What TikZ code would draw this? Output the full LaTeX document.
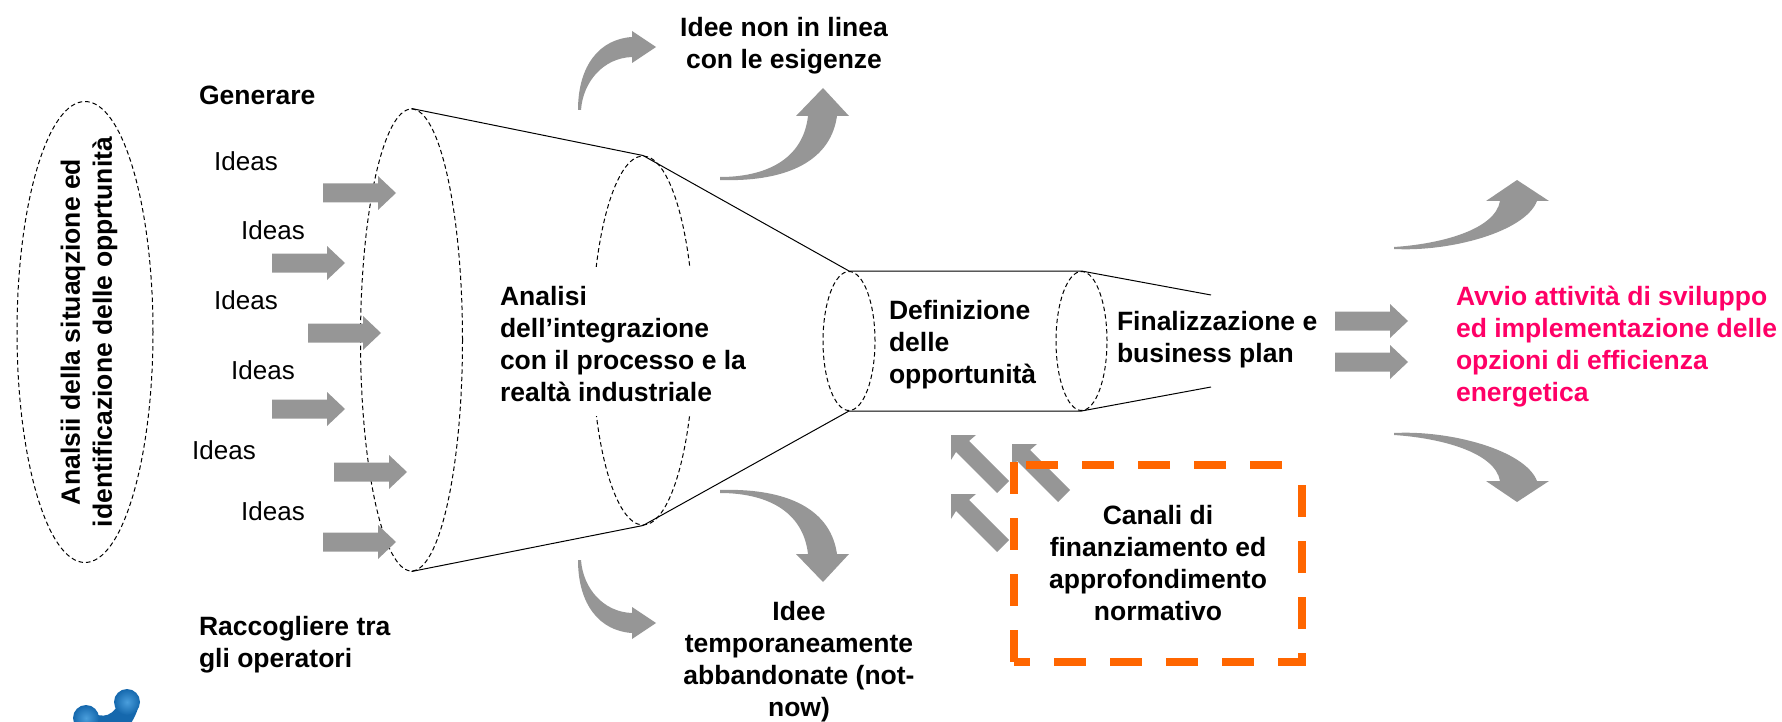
\documentclass[tikz,border=0pt]{standalone}
\usepackage{fontspec}
\setmainfont{Liberation Sans}
\usetikzlibrary{shapes.geometric}
\definecolor{arrowgray}{HTML}{969696}
\definecolor{boxorange}{HTML}{FF6600}
\definecolor{pinktext}{HTML}{FF0066}
\definecolor{logoblue}{HTML}{1A76BE}
\definecolor{logolight}{HTML}{4A9EDC}
\definecolor{logodark}{HTML}{1568AD}
\tikzset{
  lab/.style={inner sep=0pt,outer sep=0pt,font=\fontsize{26.5}{32}\selectfont\bfseries,align=left,anchor=base west},
  labc/.style={lab,align=center,anchor=base},
  idea/.style={inner sep=0pt,anchor=base west,font=\fontsize{26}{32}\selectfont},
  funnel/.style={draw=black,line width=1pt},
  dashell/.style={ellipse,draw=black,inner sep=0pt,line width=1pt,dash pattern=on 4.5pt off 3pt},
  gray fill/.style={fill=arrowgray,draw=none},
  orangedash/.style={draw=boxorange,line width=8pt},
  logoball/.style={inner color=logolight,outer color=logodark}
}
\newcommand{\straightarrow}[2]{\fill[gray fill,shift={(#1,#2)}] (0,-9.5)--(55,-9.5)--(55,-17)--(73,0)--(55,17)--(55,9.5)--(0,9.5)--cycle;}
\newcommand{\diagarrow}[2]{\fill[gray fill,shift={(#1,#2)}] (0,0)--(25,0)--(18,6)--(58,46)--(46,58)--(5,17)--(0,25)--cycle;}
\begin{document}
\begin{tikzpicture}[x=1pt,y=-1pt]
\useasboundingbox (0,0) rectangle (1782,722);
\begin{scope}
\clip (0,0) rectangle (1782,722);
% logo
\fill[logodark] (84,706) .. controls (92,714) and (106,722) .. (116,708) -- (138,708) .. controls (136,716) and (130,724) .. (128,730) -- (76,730) -- cycle;
\shade[logoball] (127,702) circle (13);
\shade[logoball] (86,718) circle (13);

% ellipses
\node[dashell,minimum width=136pt,minimum height=461pt] (scan) at (85,332) {};
\node[dashell,minimum width=102pt,minimum height=462pt] (e1) at (411.5,340) {};
\node[dashell,minimum width=102pt,minimum height=369pt] (e2) at (643,340.5) {};
\node[dashell,minimum width=52pt,minimum height=139pt] (e3) at (849,341) {};
\node[dashell,minimum width=51pt,minimum height=139pt] (e4) at (1081.5,341) {};
\fill[white] (490,267) rectangle (765,416);

% funnel
\coordinate (endtop) at (1211,295);
\coordinate (endbot) at (1211,387);
\draw[funnel] (e1.north) -- (e2.north) -- (e3.north) -- (e4.north) -- (endtop);
\draw[funnel] (e1.south) -- (e2.south) -- (e3.south) -- (e4.south) -- (endbot);

% straight arrows
\straightarrow{323}{193}
\straightarrow{272}{263}
\straightarrow{308}{333}
\straightarrow{272}{409}
\straightarrow{334}{472}
\straightarrow{323}{542}
\straightarrow{1335}{321}
\straightarrow{1335}{362}
% diagonal arrows
\diagarrow{951}{435}
\diagarrow{1012}{444}
\diagarrow{951}{494}

% curved arrows
\fill[gray fill] (578,110) .. controls (578,65) and (600,39) .. (632,37) -- (632,31) -- (656,47) -- (632,63) -- (632,57) .. controls (603,58) and (583,82) .. (581,110) -- cycle;
\fill[gray fill] (720,177) .. controls (765,177) and (803,160) .. (808,116) -- (796,116) -- (823,88) -- (849,116) -- (837,116) .. controls (830,165) and (780,182) .. (720,180) -- cycle;
\fill[gray fill] (578,560) .. controls (578,605) and (600,631) .. (632,633) -- (632,639) -- (656,623) -- (632,607) -- (632,613) .. controls (603,612) and (583,588) .. (581,560) -- cycle;
\fill[gray fill] (720,493) .. controls (765,493) and (803,510) .. (808,554) -- (796,554) -- (823,582) -- (849,554) -- (837,554) .. controls (830,505) and (780,488) .. (720,490) -- cycle;
\fill[gray fill] (1394,247) .. controls (1440,244) and (1495,230) .. (1500,201) -- (1486,201) -- (1517,180) -- (1549,201) -- (1537,201) .. controls (1525,232) and (1450,252) .. (1394,249) -- cycle;
\fill[gray fill] (1394,435) .. controls (1440,438) and (1495,452) .. (1500,481) -- (1486,481) -- (1517,502) -- (1549,481) -- (1537,481) .. controls (1525,450) and (1450,430) .. (1394,433) -- cycle;

% orange dashed box
\draw[orangedash,dash pattern=on 32pt off 24pt] (1014,462) -- (1014,662);
\draw[orangedash,dash pattern=on 32pt off 24pt,dash phase=16pt] (1014,662) -- (1306,662);
\draw[orangedash,dash pattern=on 32pt off 24pt,dash phase=19pt] (1302,666) -- (1302,465);
\draw[orangedash,dash pattern=on 32pt off 24pt,dash phase=32pt] (1306,465) -- (1018,465);
\end{scope}

% labels (base anchor = baseline of the last line)
\node[labc] (t1) at (784,69) {Idee non in linea\\con le esigenze};
\node[lab] (t2) at (199,105) {Generare};
\node[idea] (i1) at (214,171) {Ideas};
\node[idea] (i2) at (241,240) {Ideas};
\node[idea] (i3) at (214,309) {Ideas};
\node[idea] (i4) at (231,379) {Ideas};
\node[idea] (i5) at (192,459) {Ideas};
\node[idea] (i6) at (241,520) {Ideas};
\node[lab] (t3) at (199,667) {Raccogliere tra\\gli operatori};
\node[lab] (t4) at (500,401) {Analisi\\dell’integrazione\\con il processo e la\\realtà industriale};
\node[lab] (t5) at (889,383) {Definizione\\delle\\opportunità};
\node[lab] (t6) at (1117,362) {Finalizzazione e\\business plan};
\node[labc] (t7) at (1158,620) {Canali di\\finanziamento ed\\approfondimento\\normativo};
\node[labc] (t8) at (799,716) {Idee\\temporaneamente\\abbandonate (not-\\now)};
\node[lab,text=pinktext] (t9) at (1456,401) {Avvio attività di sviluppo\\ed implementazione delle\\opzioni di efficienza\\energetica};
\node[lab,align=center,anchor=center,rotate=90] (t10) at (89,332) {Analsii della situaqzione ed\\identificazione delle opprtunità};
\end{tikzpicture}
\end{document}
